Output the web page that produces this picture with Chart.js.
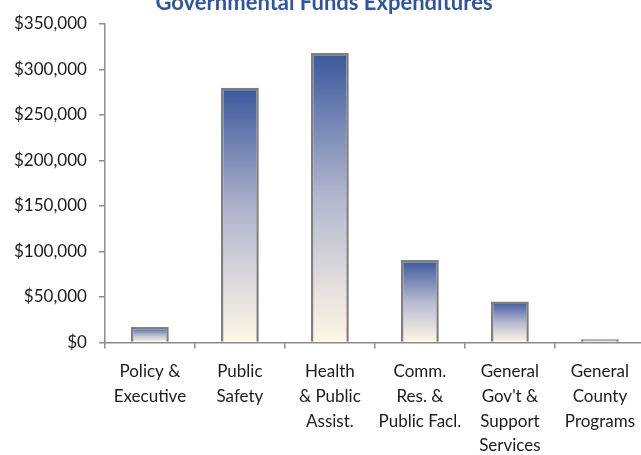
<!DOCTYPE html>
<html>
<head>
<meta charset="utf-8">
<script src="https://cdn.jsdelivr.net/npm/chart.js@4"></script>
<style>
  html, body { margin: 0; padding: 0; background: #fff; overflow: hidden; }
  #wrap { position: absolute; left: 0; top: -14px; width: 646px; height: 483px; }
</style>
</head>
<body>
<div id="wrap"><canvas id="myChart"></canvas></div>
<script>
var categories = [
    ['Policy &', 'Executive'],
    ['Public', 'Safety'],
    ['Health', '& Public', 'Assist.'],
    ['Comm.', 'Res. &', 'Public Facl.'],
    ['General', "Gov't &", 'Support', 'Services'],
    ['General', 'County', 'Programs']
];
var expenditures = [17000, 280000, 318000, 90500, 45000, 3500];
var yTicks = [0, 50000, 100000, 150000, 200000, 250000, 300000, 350000];

var fontFamily = 'Lato, "Open Sans", sans-serif';

function barFill(context) {
    var chart = context.chart;
    if (!chart.chartArea) {
        return '#8a96bd';
    }
    var y = chart.scales.y;
    var top = y.getPixelForValue(context.raw);
    var bottom = y.getPixelForValue(0);
    var g = chart.ctx.createLinearGradient(0, top, 0, bottom);
    g.addColorStop(0, '#3a589c');
    g.addColorStop(0.5, '#b4b7cf');
    g.addColorStop(1, '#fff8e6');
    return g;
}

var ctx = document.getElementById('myChart').getContext('2d');

var myChart = new Chart(ctx, {
    type: 'bar',
    data: {
        labels: categories,
        datasets: [{
            label: 'Expenditures',
            data: expenditures,
            backgroundColor: barFill,
            borderColor: '#7f7f7f',
            borderWidth: 2.5,
            barPercentage: 0.42,
            categoryPercentage: 1
        }]
    },
    options: {
        responsive: true,
        maintainAspectRatio: false,
        animation: false,
        layout: { padding: { left: 2, right: 0, top: 0, bottom: 0 } },
        plugins: {
            legend: { display: false },
            tooltip: { enabled: false },
            title: {
                display: true,
                text: 'Governmental Funds Expenditures',
                color: '#2f55a0',
                font: { family: fontFamily, size: 22, weight: 'bold', lineHeight: 1.2 },
                padding: { top: 4, bottom: 7.6 }
            }
        },
        scales: {
            x: {
                border: { display: true, color: '#8c8c8c', width: 1.5 },
                grid: { display: true, drawOnChartArea: false, drawTicks: true, tickLength: 6, color: '#8c8c8c', lineWidth: 1.5 },
                ticks: {
                    color: '#1a1a1a',
                    maxRotation: 0,
                    autoSkip: false,
                    padding: 11,
                    font: { family: fontFamily, size: 17, lineHeight: 1.45 }
                }
            },
            y: {
                min: 0,
                max: 350000,
                afterBuildTicks: function (scale) {
                    scale.ticks = yTicks.map(function (v) { return { value: v }; });
                },
                border: { display: true, color: '#8c8c8c', width: 1.5 },
                grid: { display: true, drawOnChartArea: false, drawTicks: true, tickLength: 6, color: '#8c8c8c', lineWidth: 1.5 },
                ticks: {
                    color: '#1a1a1a',
                    padding: 12,
                    font: { family: fontFamily, size: 17 },
                    callback: function (value) {
                        return '$' + value.toLocaleString('en-US');
                    }
                }
            }
        }
    }
});
</script>
</body>
</html>
